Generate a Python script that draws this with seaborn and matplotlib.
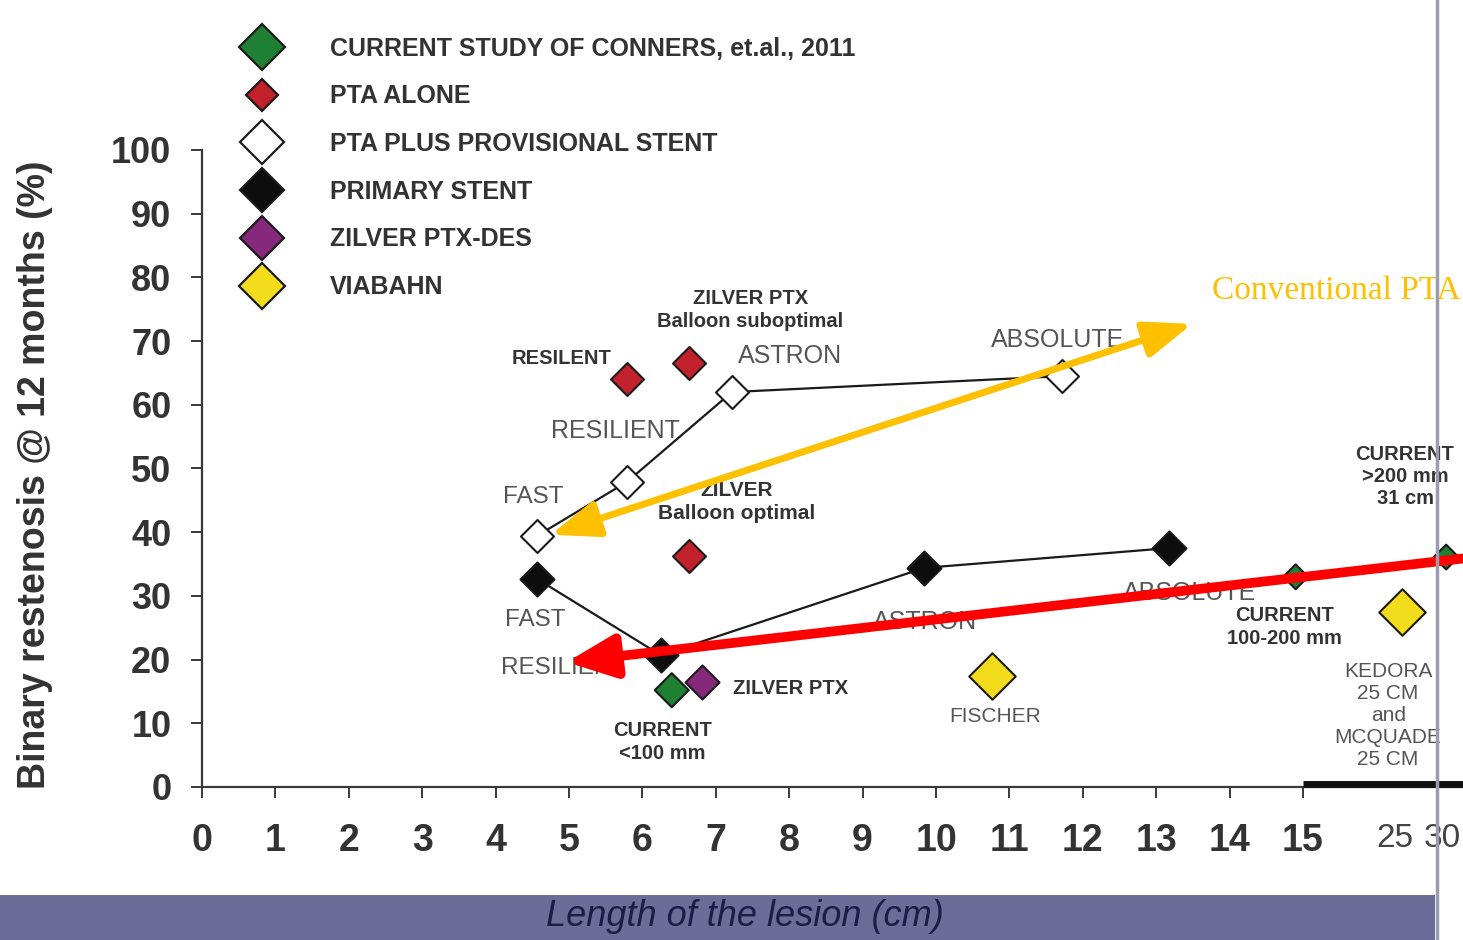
import matplotlib
matplotlib.use("Agg")
import matplotlib.pyplot as plt
from matplotlib.lines import Line2D
from matplotlib.patches import Rectangle, FancyArrowPatch, ArrowStyle
import seaborn as sns
import pandas as pd

# Lesion length (cm, axis position) vs. binary restenosis at 12 months (%)
current_x = [6.40, 14.90, 16.95]
current_y = [15.2, 33.0, 36.1]
pta_alone_x = [5.79, 6.63, 6.63]
pta_alone_y = [64.0, 66.6, 36.3]
provisional_x = [4.56, 5.79, 7.22, 11.72]
provisional_y = [39.4, 47.9, 62.0, 64.5]
primary_x = [4.56, 6.25, 9.84, 13.17]
primary_y = [32.7, 20.7, 34.4, 37.5]
zilver_des_x = [6.81]
zilver_des_y = [16.5]
viabahn_x = [10.76, 16.35]
viabahn_y = [17.4, 27.5]

series_names = [
    "CURRENT STUDY OF CONNERS, et.al., 2011",
    "PTA ALONE",
    "PTA PLUS PROVISIONAL STENT",
    "PRIMARY STENT",
    "ZILVER PTX-DES",
    "VIABAHN",
]
x_tick_values = list(range(16)) + [16.25, 16.9]
x_tick_labels = [str(i) for i in range(16)] + ["25", "30"]
y_tick_values = list(range(0, 101, 10))

GREEN = "#1f7f33"
RED = "#c2202b"
WHITE = "#ffffff"
BLACK = "#0d0d0d"
PURPLE = "#86287c"
YELLOW = "#f2dc1c"
EDGE = "#1a1a1a"
TEXT = "#333333"
GRAY_TEXT = "#555555"

sns.set_style("white")
plt.rcParams["font.family"] = ["Liberation Sans", "DejaVu Sans"]

W, H = 1463, 940
fig = plt.figure(figsize=(W / 100, H / 100), dpi=100)
fig.patch.set_facecolor("white")

# axes: x=0 at px 202, y=0 at px 787, 100% at px 150
ax = fig.add_axes([202 / W, (H - 787) / H, (W - 202) / W, 787 / H])
ax.set_facecolor("white")
ax.set_xlim(0, (W - 202) / 73.4)
ax.set_ylim(0, 787 / 6.37)

# connecting lines for the two stent series
prov_df = pd.DataFrame({"x": provisional_x, "y": provisional_y})
prim_df = pd.DataFrame({"x": primary_x, "y": primary_y})
sns.lineplot(data=prov_df, x="x", y="y", sort=False, color="#1a1a1a", lw=1.6, ax=ax, zorder=2)
sns.lineplot(data=prim_df, x="x", y="y", sort=False, color="#1a1a1a", lw=1.6, ax=ax, zorder=2)

def diamonds(xs, ys, face, size):
    sns.scatterplot(x=xs, y=ys, marker="D", s=size, color=face, edgecolor=EDGE,
                    linewidth=1.5, ax=ax, zorder=4, legend=False)

diamonds(current_x, current_y, GREEN, [300, 160, 160])
diamonds(pta_alone_x, pta_alone_y, RED, 282)
diamonds(provisional_x, provisional_y, WHITE, 282)
diamonds(primary_x, primary_y, BLACK, 300)
diamonds(zilver_des_x, zilver_des_y, PURPLE, 300)
diamonds(viabahn_x, viabahn_y, YELLOW, 560)

# legend
legend_faces = [GREEN, RED, WHITE, BLACK, PURPLE, YELLOW]
legend_sizes = [23.9, 16.8, 21.9, 21.9, 21.9, 23.4]
handles = [Line2D([], [], ls="", marker="D", markersize=ms, markerfacecolor=fc,
                  markeredgecolor=EDGE, markeredgewidth=1.6)
           for fc, ms in zip(legend_faces, legend_sizes)]
leg = ax.legend(handles, series_names, loc="upper left",
                bbox_to_anchor=(202 / W, 1 - 14 / H), bbox_transform=fig.transFigure,
                frameon=False, handlelength=3.0, handletextpad=1.22,
                labelspacing=0.95, borderpad=0.4,
                prop={"weight": "bold", "size": 18})
for t in leg.get_texts():
    t.set_color(TEXT)

# axes styling
for side in ("top", "right"):
    ax.spines[side].set_visible(False)
ax.spines["left"].set_bounds(0, 100)
for side in ("left", "bottom"):
    ax.spines[side].set_color("#3a3a3a")
    ax.spines[side].set_linewidth(1.6)

ax.set_yticks(y_tick_values)
ax.set_yticklabels([str(v) for v in y_tick_values])
ax.set_xticks(x_tick_values)
ax.set_xticklabels(x_tick_labels)
ax.tick_params(axis="y", direction="out", length=8, width=1.4, color="#3a3a3a",
               pad=14, labelsize=26, labelcolor=TEXT, left=True)
ax.tick_params(axis="x", direction="out", length=8, width=1.4, color="#3a3a3a",
               pad=18, labelsize=27, labelcolor=TEXT, bottom=True)
for lbl in ax.get_yticklabels():
    lbl.set_fontweight("bold")
xticks = ax.xaxis.get_major_ticks()
for i, lbl in enumerate(ax.get_xticklabels()):
    if i < 16:
        lbl.set_fontweight("bold")
    else:
        lbl.set_fontsize(24)
        lbl.set_color("#444444")
        xticks[i].tick1line.set_visible(False)
ax.set_xlabel("")
ax.set_ylabel("")

# axis break bar beyond 15 cm
ax.plot([15, 17.4], [0.4, 0.4], color="#111111", lw=5, solid_capstyle="butt",
        clip_on=False, zorder=3)

# study labels
def label(x, y, s, bold=False, size=15, color=TEXT, ha="center", ls=1.25):
    ax.text(x, y, s, ha=ha, va="center", fontsize=size,
            fontweight="bold" if bold else "normal", color=color,
            linespacing=ls, zorder=3)

label(4.90, 67.3, "RESILENT", bold=True, size=14.5)
label(7.47, 74.9, "ZILVER PTX\nBalloon suboptimal", bold=True, size=14.5)
label(8.01, 67.7, "ASTRON", size=18, color=GRAY_TEXT)
label(5.63, 55.9, "RESILIENT", size=18, color=GRAY_TEXT)
label(4.51, 45.5, "FAST", size=17.5, color=GRAY_TEXT)
label(7.28, 44.7, "ZILVER\nBalloon optimal", bold=True, size=15)
label(11.66, 70.2, "ABSOLUTE", size=18, color=GRAY_TEXT)
label(4.54, 26.2, "FAST", size=17.5, color=GRAY_TEXT)
label(4.92, 18.7, "RESILIENT", size=17.5, color=GRAY_TEXT)
label(9.85, 25.9, "ASTRON", size=18, color=GRAY_TEXT)
label(13.46, 30.5, "ABSOLUTE", size=18, color=GRAY_TEXT)
label(7.23, 15.5, "ZILVER PTX", bold=True, size=14.5, ha="left")
label(6.27, 7.1, "CURRENT\n<100 mm", bold=True, size=14.5)
label(10.80, 11.0, "FISCHER", size=15, color=GRAY_TEXT)
label(14.75, 25.1, "CURRENT\n100-200 mm", bold=True, size=14.5)
label(16.16, 11.3, "KEDORA\n25 CM\nand\nMCQUADE\n25 CM", size=15, color=GRAY_TEXT, ls=1.2)
label(16.39, 48.7, "CURRENT\n>200 mm\n31 cm", bold=True, size=14.5, ls=1.2)

# overlay arrows
yellow_arrow = FancyArrowPatch((13.49, 72.7), (4.75, 39.6),
                               arrowstyle=ArrowStyle("<|-|>", head_length=2.9, head_width=1.1),
                               mutation_scale=10, color="#ffc000", lw=5,
                               shrinkA=0, shrinkB=0, clip_on=False, zorder=8)
ax.add_patch(yellow_arrow)
red_arrow = FancyArrowPatch((17.5, 36.3), (4.97, 19.6),
                            arrowstyle=ArrowStyle("-|>", head_length=2.9, head_width=1.3),
                            mutation_scale=10, color="#ff0000", lw=7,
                            shrinkA=0, shrinkB=0, clip_on=False, zorder=8)
ax.add_patch(red_arrow)

fig.text(1212 / W, 1 - 291 / H, "Conventional PTA", fontsize=24, color="#ffc000",
         family=["Liberation Serif", "DejaVu Serif"], ha="left", va="center")

# y axis title
fig.text(35 / W, 1 - 475 / H, "Binary restenosis @ 12 months (%)", rotation=90,
         ha="center", va="center", fontsize=27, fontweight="bold", color=TEXT)

# x axis title band
fig.add_artist(Rectangle((0, 0), 1435 / W, 45 / H, transform=fig.transFigure,
                         facecolor="#6c6c98", edgecolor="none", zorder=1))
fig.text(745 / W, 1 - 917 / H, "Length of the lesion (cm)", ha="center", va="center",
         fontsize=26, style="italic", color="#1c1c44", zorder=2)

# frame edge on the right
fig.add_artist(Line2D([1437 / W, 1437 / W], [0, 1], transform=fig.transFigure,
                      color="#9c9cb0", lw=2.5, zorder=5))

fig.savefig("out.png", dpi=100, facecolor="white")
